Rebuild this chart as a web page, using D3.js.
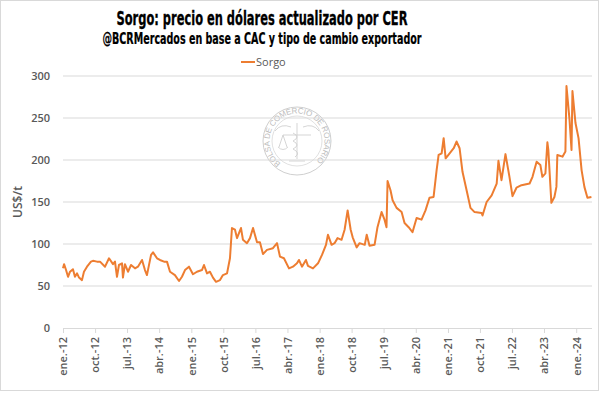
<!DOCTYPE html>
<html>
<head>
<meta charset="utf-8">
<script src="https://cdnjs.cloudflare.com/ajax/libs/d3/7.8.5/d3.min.js"></script>
<style>
  body { margin: 0; background: #fff; }
  svg { display: block; }
</style>
</head>
<body>
<svg id="chart" width="601" height="393"></svg>
<script>
// serie (US$/t)
var dates = [
  '2012-01-01', '2012-01-10', '2012-01-27', '2012-02-13', '2012-03-01', '2012-03-26', '2012-04-12',
  '2012-04-30', '2012-05-17', '2012-06-11', '2012-06-28', '2012-07-24', '2012-08-27', '2012-09-13',
  '2012-10-17', '2012-11-12', '2012-12-25', '2013-01-28', '2013-03-03', '2013-03-20', '2013-04-06',
  '2013-04-23', '2013-05-19', '2013-05-27', '2013-06-13', '2013-07-09', '2013-08-04', '2013-09-07',
  '2013-10-02', '2013-11-06', '2013-12-01', '2013-12-18', '2014-01-22', '2014-02-08', '2014-03-14',
  '2014-04-08', '2014-05-13', '2014-06-07', '2014-07-03', '2014-08-14', '2014-09-18', '2014-10-13',
  '2014-11-08', '2014-12-12', '2015-01-15', '2015-02-18', '2015-04-02', '2015-04-19', '2015-05-15',
  '2015-06-09', '2015-07-05', '2015-07-31', '2015-09-03', '2015-09-28', '2015-11-02', '2015-11-27',
  '2015-12-14', '2016-01-09', '2016-01-26', '2016-02-29', '2016-03-17', '2016-04-20', '2016-05-16',
  '2016-06-11', '2016-07-15', '2016-08-09', '2016-09-04', '2016-10-08', '2016-11-28', '2017-01-02',
  '2017-01-27', '2017-03-02', '2017-04-14', '2017-05-18', '2017-06-21', '2017-07-08', '2017-08-03',
  '2017-09-06', '2017-09-23', '2017-11-05', '2017-12-18', '2018-01-21', '2018-02-24', '2018-03-13',
  '2018-04-13', '2018-05-08', '2018-06-03', '2018-07-07', '2018-08-02', '2018-08-28', '2018-09-23',
  '2018-10-10', '2018-11-13', '2018-12-08', '2019-01-21', '2019-02-07', '2019-03-03', '2019-04-15',
  '2019-05-10', '2019-06-14', '2019-07-09', '2019-07-26', '2019-08-04', '2019-08-29', '2019-09-16',
  '2019-10-20', '2019-12-02', '2019-12-27', '2020-01-31', '2020-03-04', '2020-04-08', '2020-05-20',
  '2020-06-23', '2020-07-27', '2020-08-31', '2020-09-26', '2020-10-13', '2020-11-08', '2020-11-25',
  '2020-12-12', '2021-01-15', '2021-02-19', '2021-03-15', '2021-04-10', '2021-05-05', '2021-06-17',
  '2021-07-12', '2021-08-16', '2021-10-15', '2021-10-23', '2021-11-27', '2022-01-09', '2022-02-21',
  '2022-03-08', '2022-04-03', '2022-05-07', '2022-06-10', '2022-07-06', '2022-08-09', '2022-09-21',
  '2022-11-29', '2022-12-24', '2023-01-28', '2023-03-01', '2023-03-18', '2023-04-13', '2023-04-30',
  '2023-05-08', '2023-06-03', '2023-06-29', '2023-07-16', '2023-07-24', '2023-09-06', '2023-10-01',
  '2023-10-10', '2023-11-05', '2023-11-22', '2023-11-30', '2023-12-26', '2024-01-21', '2024-02-16',
  '2024-03-11', '2024-04-06', '2024-05-10'
];
var values = [
  71, 76, 69, 61, 67, 70, 61,
  65, 60, 57, 67, 73, 79, 80,
  79, 79, 73, 83, 76, 79, 61,
  75, 77, 60, 76, 67, 75, 71,
  73, 81, 69, 63, 87, 90, 83,
  81, 79, 79, 67, 63, 56, 61,
  69, 73, 64, 67, 69, 75, 65,
  67, 60, 55, 57, 63, 65, 83,
  119, 117, 107, 119, 105, 101, 107,
  119, 102, 102, 88, 93, 95, 101,
  85, 83, 71, 73, 77, 81, 73,
  81, 74, 71, 77, 87, 99, 111,
  99, 101, 107, 105, 117, 140, 117,
  108, 96, 101, 99, 111, 98, 99,
  120, 138, 129, 120, 175, 164, 152,
  143, 138, 125, 120, 114, 131, 129,
  140, 155, 156, 188, 206, 208, 226,
  202, 208, 214, 222, 214, 186, 159,
  143, 138, 137, 134, 150, 158, 172,
  199, 176, 207, 180, 157, 167, 170,
  172, 180, 198, 194, 180, 184, 221,
  212, 149, 156, 168, 206, 204, 210,
  288, 248, 212, 282, 244, 226, 188,
  168, 155, 156
];

var yTicks = [0, 50, 100, 150, 200, 250, 300];
var xTickDates = [
  '2012-01-01', '2012-10-01', '2013-07-01', '2014-04-01', '2015-01-01', '2015-10-01',
  '2016-07-01', '2017-04-01', '2018-01-01', '2018-10-01', '2019-07-01', '2020-04-01',
  '2021-01-01', '2021-10-01', '2022-07-01', '2023-04-01', '2024-01-01'
];
var xTickLabels = [
  'ene.-12', 'oct.-12', 'jul.-13', 'abr.-14', 'ene.-15', 'oct.-15',
  'jul.-16', 'abr.-17', 'ene.-18', 'oct.-18', 'jul.-19', 'abr.-20',
  'ene.-21', 'oct.-21', 'jul.-22', 'abr.-23', 'ene.-24'
];

var parse = d3.timeParse('%Y-%m-%d');
var data = dates.map(function (d, i) { return { date: parse(d), value: values[i] }; });

var svg = d3.select('#chart');
var W = 601, H = 393;
var margin = { left: 63, right: 9, top: 76, bottom: 65 };

var x = d3.scaleTime()
  .domain([parse('2012-01-01'), parse('2024-05-15')])
  .range([margin.left, W - margin.right]);
var y = d3.scaleLinear()
  .domain([0, 300])
  .range([H - margin.bottom, margin.top]);

// marco
svg.append('rect')
  .attr('x', 0.5).attr('y', 0.5)
  .attr('width', W - 3).attr('height', H - 3)
  .attr('fill', '#fff')
  .attr('stroke', '#d9d9d9');

// titulos
svg.append('text')
  .attr('x', 262).attr('y', 25)
  .attr('text-anchor', 'middle')
  .attr('textLength', 291).attr('lengthAdjust', 'spacingAndGlyphs')
  .style('font-family', '"Liberation Sans Narrow", "DejaVu Sans Condensed", sans-serif')
  .style('font-weight', 'bold')
  .style('font-size', '19px')
  .attr('fill', '#000')
  .attr('stroke', '#000').attr('stroke-width', 0.3)
  .text('Sorgo: precio en dólares actualizado por CER');

svg.append('text')
  .attr('x', 262).attr('y', 44)
  .attr('text-anchor', 'middle')
  .attr('textLength', 319).attr('lengthAdjust', 'spacingAndGlyphs')
  .style('font-family', '"Liberation Sans Narrow", "DejaVu Sans Condensed", sans-serif')
  .style('font-weight', 'bold')
  .style('font-size', '15px')
  .attr('fill', '#000')
  .attr('stroke', '#000').attr('stroke-width', 0.2)
  .text('@BCRMercados en base a CAC y tipo de cambio exportador');

// sello de agua
var seal = svg.append('g').attr('transform', 'translate(297,141)');
seal.append('circle').attr('r', 34).attr('fill', 'none').attr('stroke', '#cfcfcf').attr('stroke-width', 1);
seal.append('circle').attr('r', 25).attr('fill', 'none').attr('stroke', '#d8d8d8').attr('stroke-width', 0.8);
var rr = 27.5;
var a0 = Math.PI / 5;
seal.append('path')
  .attr('id', 'sealPath')
  .attr('fill', 'none')
  .attr('d', 'M' + (-rr * Math.sin(a0)) + ',' + (rr * Math.cos(a0)) +
    ' A' + rr + ',' + rr + ' 0 1,1 ' + (rr * Math.sin(a0)) + ',' + (rr * Math.cos(a0)));
seal.append('text')
  .style('font-family', '"Liberation Sans", sans-serif')
  .style('font-size', '8px')
  .attr('fill', '#bdbdbd')
  .append('textPath')
  .attr('href', '#sealPath')
  .attr('textLength', 134)
  .text('BOLSA DE COMERCIO DE ROSARIO');
// balanza y caduceo, muy simplificados
seal.append('path')
  .attr('fill', 'none').attr('stroke', '#d0d0d0').attr('stroke-width', 0.9)
  .attr('d', 'M0,-18 L0,18 M-14,-6 L14,-6 M-14,-6 L-18,6 M-14,-6 L-10,6 M-19,6 Q-14,11 -9,6 ' +
    'M-6,-14 Q-16,-18 -22,-10 M6,-14 Q16,-18 22,-10 M-4,-8 Q4,-4 -4,0 Q4,4 -4,8 Q4,12 -2,16 ' +
    'M-8,20 L8,20');

// grilla
svg.append('g')
  .selectAll('line')
  .data(yTicks.slice(1))
  .join('line')
  .attr('x1', margin.left).attr('x2', W - margin.right)
  .attr('y1', function (d) { return y(d); })
  .attr('y2', function (d) { return y(d); })
  .attr('stroke', '#d9d9d9')
  .attr('stroke-width', 1);

// eje y
var yAxis = svg.append('g')
  .attr('transform', 'translate(' + margin.left + ',0)')
  .call(d3.axisLeft(y).tickValues(yTicks).tickSize(0).tickPadding(13));
yAxis.select('.domain').remove();
yAxis.selectAll('text')
  .style('font-family', '"Open Sans", sans-serif')
  .style('font-weight', 600)
  .style('font-size', '11px')
  .attr('fill', '#595959');

svg.append('text')
  .attr('transform', 'translate(22,' + ((margin.top + H - margin.bottom) / 2) + ') rotate(-90)')
  .attr('text-anchor', 'middle')
  .style('font-family', '"Open Sans", sans-serif')
  .style('font-weight', 600)
  .style('font-size', '12px')
  .attr('fill', '#595959')
  .text('US$/t');

// eje x
var xAxis = svg.append('g')
  .attr('transform', 'translate(0,' + y(0) + ')')
  .call(d3.axisBottom(x)
    .tickValues(xTickDates.map(parse))
    .tickFormat(function (d, i) { return xTickLabels[i]; })
    .tickSize(5)
    .tickSizeOuter(0));
xAxis.select('.domain')
  .attr('d', 'M' + margin.left + ',0.5H' + (W - margin.right))
  .attr('stroke', '#d9d9d9');
xAxis.selectAll('.tick line').attr('stroke', '#d9d9d9');
xAxis.selectAll('text')
  .attr('transform', 'rotate(-90)')
  .attr('x', -9).attr('y', 0).attr('dy', '0.35em')
  .attr('text-anchor', 'end')
  .style('font-family', '"Open Sans", sans-serif')
  .style('font-weight', 600)
  .style('font-size', '11px')
  .attr('fill', '#595959');

// linea
var line = d3.line()
  .x(function (d) { return x(d.date); })
  .y(function (d) { return y(d.value); });

svg.append('path')
  .datum(data)
  .attr('fill', 'none')
  .attr('stroke', '#ED7D31')
  .attr('stroke-width', 2)
  .attr('stroke-linejoin', 'round')
  .attr('d', line);

// leyenda
var legend = svg.append('g').attr('transform', 'translate(241,62)');
legend.append('line')
  .attr('x1', 0).attr('x2', 14)
  .attr('stroke', '#ED7D31').attr('stroke-width', 2);
legend.append('text')
  .attr('x', 15).attr('y', 0).attr('dy', '0.35em')
  .style('font-family', '"Open Sans", sans-serif')
  .style('font-size', '11px')
  .attr('fill', '#595959')
  .text('Sorgo');
</script>
</body>
</html>
